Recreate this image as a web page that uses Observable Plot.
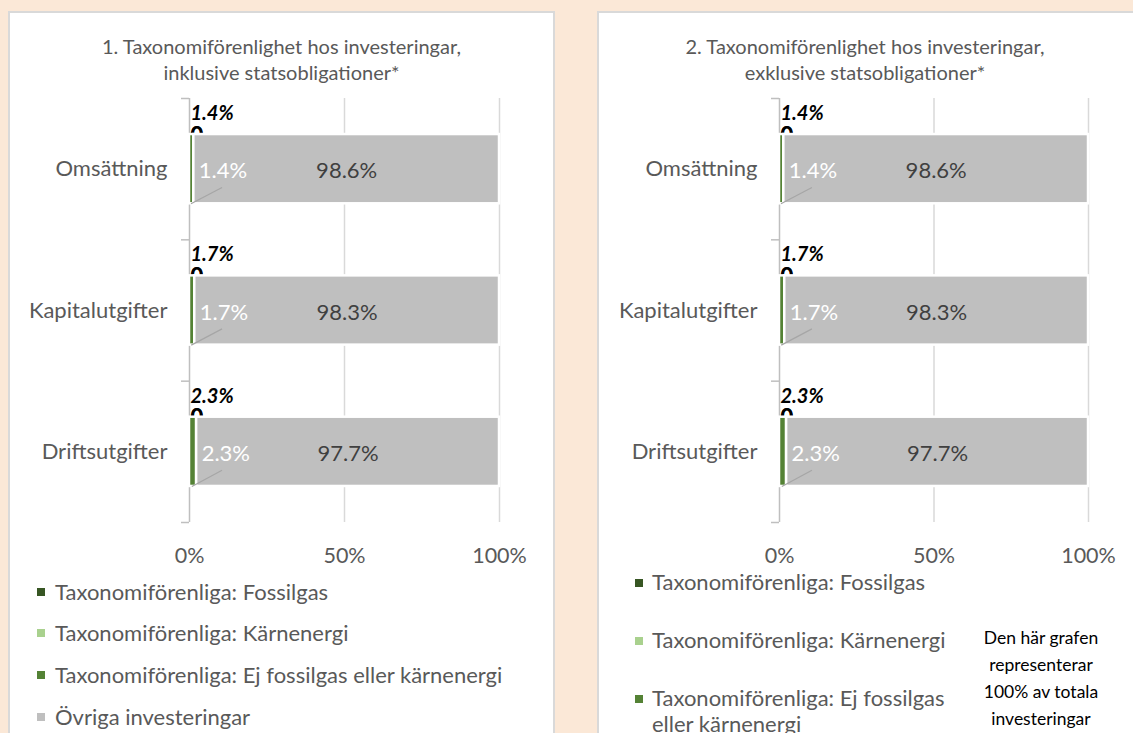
<!DOCTYPE html>
<html><head><meta charset="utf-8">
<script src="https://cdn.jsdelivr.net/npm/d3@7"></script>
<script src="https://cdn.jsdelivr.net/npm/@observablehq/plot@0.6"></script>
<style>
html,body{margin:0;padding:0}
body{background:#FBE8D7;font-family:Lato,"Open Sans",sans-serif;width:1133px;height:733px;overflow:hidden;position:relative}
.panel{position:absolute;background:#fff;border:2px solid #D9D9D9;box-sizing:border-box}
.title{position:absolute;text-align:center;color:#595959;font-size:20px;line-height:26px}
.chart{position:absolute}
.item{position:absolute;color:#595959;font-size:22px;line-height:27px}
.item .sw{position:absolute;width:8px;height:8px}
.note{position:absolute;text-align:center;color:#000;font-size:17.5px;line-height:27px}
</style>
</head><body>
<div class="panel" style="left:8px;top:11px;width:547px;height:760px"></div>
<div class="panel" style="left:597px;top:11px;width:560px;height:760px"></div>
<div class="title" id="t1" style="left:8px;top:33px;width:547px"></div>
<div class="title" id="t2" style="left:597px;top:33px;width:536px"></div>
<div class="chart" id="c1" style="left:0px;top:92px"></div>
<div class="chart" id="c2" style="left:590px;top:92px"></div>
<div id="leg1"></div>
<div id="leg2"></div>
<div class="note" id="note" style="left:963px;top:624px;width:156px"></div>
<script>
// ---- data ----
const categories = ["Omsättning", "Kapitalutgifter", "Driftsutgifter"];
const seriesNames = [
  "Taxonomiförenliga: Fossilgas",
  "Taxonomiförenliga: Kärnenergi",
  "Taxonomiförenliga: Ej fossilgas eller kärnenergi",
  "Övriga investeringar"
];
const seriesColors = ["#375623", "#A9D18E", "#548235", "#BFBFBF"];
const xTicks = [0, 50, 100];

// Chart 1: inklusive statsobligationer
const fossilgas1 = [0, 0, 0];
const karnenergi1 = [0, 0, 0];
const ejFossil1 = [1.4, 1.7, 2.3];
const ovriga1 = [98.6, 98.3, 97.7];
const totalAligned1 = [1.4, 1.7, 2.3];

// Chart 2: exklusive statsobligationer
const fossilgas2 = [0, 0, 0];
const karnenergi2 = [0, 0, 0];
const ejFossil2 = [1.4, 1.7, 2.3];
const ovriga2 = [98.6, 98.3, 97.7];
const totalAligned2 = [1.4, 1.7, 2.3];

const title1 = ["1. Taxonomiförenlighet hos investeringar,", "inklusive statsobligationer*"];
const title2 = ["2. Taxonomiförenlighet hos investeringar,", "exklusive statsobligationer*"];
const noteLines = ["Den här grafen", "representerar", "100% av totala", "investeringar"];

const fmt = v => v.toFixed(1) + "%";
const half = 0.245;

function makeChart(vals, totals, width, marginRight) {
  const rows = [];
  categories.forEach((c, i) => {
    let acc = 0;
    seriesNames.forEach((s, k) => {
      const v = vals[k][i];
      rows.push({i, k, series: s, value: v, x1: acc, x2: acc + v});
      acc += v;
    });
  });
  const zeros = rows.filter(d => d.value === 0);
  const nonzero = rows.filter(d => d.value > 0);
  const green = rows.filter(d => d.k === 2);
  const other = rows.filter(d => d.k === 3);
  const tot = totals.map((v, i) => ({i, v}));
  return Plot.plot({
    width, height: 480,
    marginLeft: 189, marginRight, marginTop: 6, marginBottom: 50,
    x: {domain: [0, 100], label: null},
    y: {domain: [-0.5, 2.5], reverse: true, label: null},
    color: {domain: seriesNames, range: seriesColors},
    style: {fontFamily: "Lato, 'Open Sans', sans-serif", background: "transparent", overflow: "visible"},
    marks: [
      Plot.ruleX([50, 100], {stroke: "#D9D9D9", strokeWidth: 1.5}),
      Plot.ruleX([0], {stroke: "#BFBFBF", strokeWidth: 1.5}),
      Plot.axisY([-0.5, 0.5, 1.5, 2.5], {tickSize: 8, tickFormat: () => "", label: null, stroke: "#BFBFBF", strokeWidth: 1.5}),
      Plot.axisY([0, 1, 2], {tickSize: 0, tickPadding: 22, label: null, tickFormat: i => categories[i], fontSize: 22, fill: "#595959"}),
      Plot.axisX(xTicks, {tickSize: 0, tickPadding: 25, label: null, tickFormat: d => d + "%", fontSize: 21.5, fill: "#595959"}),
      Plot.text(zeros, {x: "x1", y: d => d.i - half, text: () => "0", textAnchor: "start", dx: 1, dy: 1,
        fontWeight: "bold", fontSize: 22, fill: "#000", lineAnchor: "middle"}),
      Plot.rect(nonzero, {x1: "x1", x2: "x2", y1: d => d.i - half, y2: d => d.i + half,
        fill: "series", stroke: "white", strokeWidth: 2.5}),
      Plot.link(green, {x1: d => d.x1 + d.value / 3, y1: d => d.i + half, x2: d => d.x1 + 10.5, y2: d => d.i + 0.13,
        stroke: "#A6A6A6", strokeWidth: 1.2}),
      Plot.text(green, {x: "x2", y: "i", dx: 5, dy: 2, text: d => fmt(d.value), textAnchor: "start",
        fill: "white", fontSize: 22}),
      Plot.text(other, {x: d => (d.x1 + d.x2) / 2, y: "i", dy: 2, text: d => fmt(d.value),
        fill: "#404040", fontSize: 22}),
      Plot.text(tot, {x: 0, y: d => d.i - half, dy: -21, dx: 1, text: d => fmt(d.v), textAnchor: "start",
        fontWeight: "bold", fontStyle: "italic", fontSize: 20, fill: "#000"})
    ]
  });
}

document.getElementById("t1").innerHTML = title1.join("<br>");
document.getElementById("t2").innerHTML = title2.join("<br>");
document.getElementById("note").innerHTML = noteLines.join("<br>");

document.getElementById("c1").appendChild(
  makeChart([fossilgas1, karnenergi1, ejFossil1, ovriga1], totalAligned1, 553, 54));
document.getElementById("c2").appendChild(
  makeChart([fossilgas2, karnenergi2, ejFossil2, ovriga2], totalAligned2, 543, 45));

function legend(id, swX, textX, centers, maxW, lh) {
  const host = document.getElementById(id);
  seriesNames.forEach((name, k) => {
    if (k >= centers.length) return;
    const el = document.createElement("div");
    el.className = "item";
    el.style.left = textX + "px";
    el.style.top = (centers[k] - lh / 2) + "px";
    el.style.lineHeight = lh + "px";
    if (maxW) el.style.width = maxW + "px";
    el.textContent = name;
    const sw = document.createElement("span");
    sw.className = "sw";
    sw.style.background = seriesColors[k];
    sw.style.left = (swX - textX) + "px";
    sw.style.top = (lh / 2 - 3.5) + "px";
    el.appendChild(sw);
    host.appendChild(el);
  });
}
legend("leg1", 37, 55, [591, 632, 674, 716], null, 27);
legend("leg2", 635, 652, [582, 640, 698, 756], 310, 26);
</script>
</body></html>
